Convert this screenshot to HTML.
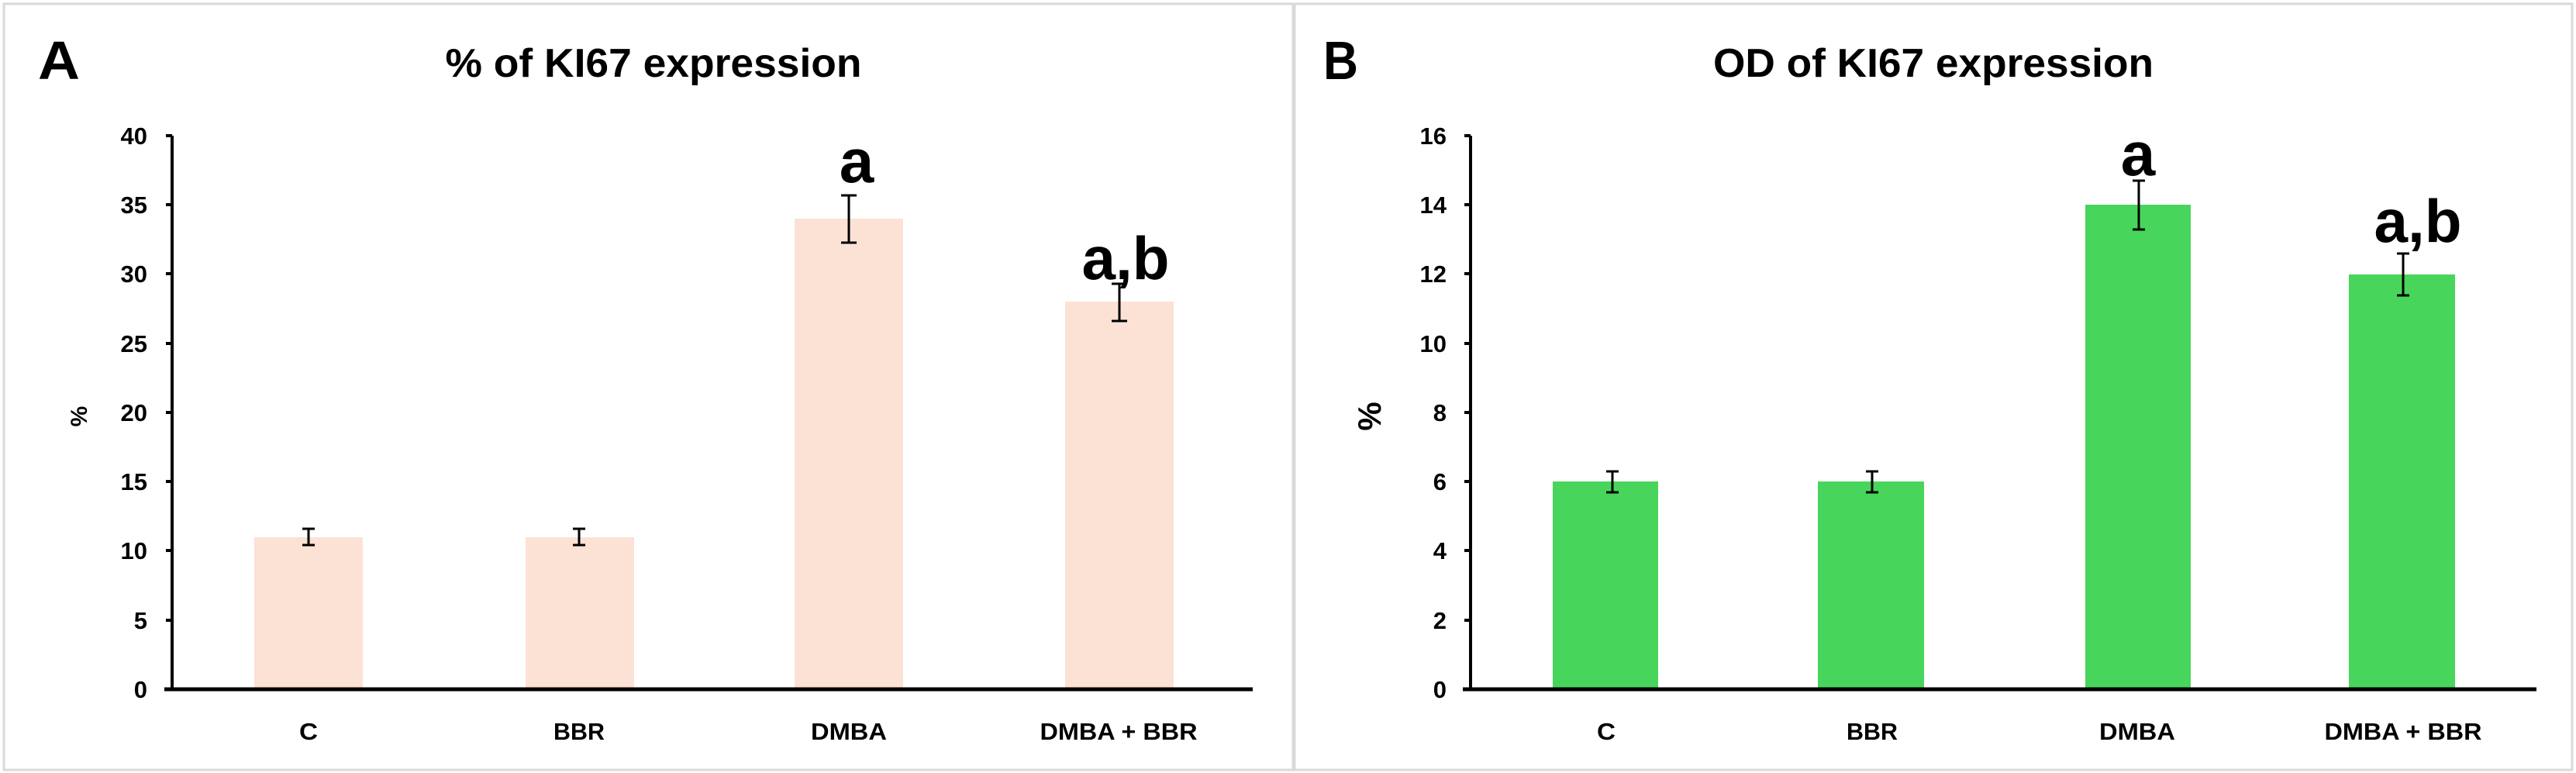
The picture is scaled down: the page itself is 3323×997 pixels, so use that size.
<!DOCTYPE html>
<html><head><meta charset="utf-8"><style>
html,body{margin:0;padding:0;background:#fff;}
svg{display:block;}
text{font-family:"Liberation Sans",sans-serif;font-weight:bold;fill:#000;}
</style></head><body>
<svg width="3323" height="997" viewBox="0 0 3323 997" xmlns="http://www.w3.org/2000/svg">
<rect x="0" y="0" width="3323" height="997" fill="#fff"/>
<rect x="5" y="5" width="1663" height="988" fill="none" stroke="#d9d9d9" stroke-width="3"/>
<rect x="1670" y="5" width="1648" height="988" fill="none" stroke="#d9d9d9" stroke-width="3"/>

<!-- Panel A -->
<text x="49" y="102" font-size="70" textLength="54" lengthAdjust="spacingAndGlyphs">A</text>
<text x="843" y="99" font-size="52" text-anchor="middle" textLength="537" lengthAdjust="spacingAndGlyphs">% of KI67 expression</text>
<g fill="#FBE2D5">
<rect x="328" y="693" width="140" height="196"/>
<rect x="678" y="693" width="140" height="196"/>
<rect x="1025" y="282" width="140" height="607"/>
<rect x="1374" y="389" width="140" height="500"/>
</g>
<g stroke="#000" stroke-width="3" fill="none">
<path d="M398 682V703M390 682H406M390 703H406"/>
<path d="M747 682V703M739 682H755M739 703H755"/>
<path d="M1095 252V313M1085 252H1105M1085 313H1105"/>
<path d="M1444 366V414M1434 366H1454M1434 414H1454"/>
</g>
<path d="M222 175V889M214 175H222M214 264H222M214 353H222M214 443H222M214 532H222M214 621H222M214 710H222M214 800H222M214 889H222" stroke="#000" stroke-width="4" fill="none"/>
<path d="M212 889H1616" stroke="#000" stroke-width="5"/>
<g font-size="31" text-anchor="end">
<text x="190" y="186">40</text><text x="190" y="275">35</text><text x="190" y="364">30</text><text x="190" y="454">25</text><text x="190" y="543">20</text><text x="190" y="632">15</text><text x="190" y="721">10</text><text x="190" y="811">5</text><text x="190" y="900">0</text>
</g>
<text transform="translate(112,537) rotate(-90)" font-size="30" text-anchor="middle">%</text>
<g font-size="31" text-anchor="middle">
<text x="398" y="954" textLength="24" lengthAdjust="spacingAndGlyphs">C</text>
<text x="747" y="954" textLength="66" lengthAdjust="spacingAndGlyphs">BBR</text>
<text x="1095" y="954" textLength="98" lengthAdjust="spacingAndGlyphs">DMBA</text>
<text x="1443" y="954" textLength="203" lengthAdjust="spacingAndGlyphs">DMBA + BBR</text>
</g>
<text x="1105" y="235" font-size="80" text-anchor="middle">a</text>
<text x="1452" y="360" font-size="78" text-anchor="middle" textLength="113" lengthAdjust="spacingAndGlyphs">a,b</text>

<!-- Panel B -->
<text x="1707" y="102" font-size="70" textLength="45" lengthAdjust="spacingAndGlyphs">B</text>
<text x="2494" y="99" font-size="52" text-anchor="middle" textLength="568" lengthAdjust="spacingAndGlyphs">OD of KI67 expression</text>
<g fill="#48D55B">
<rect x="2003" y="621" width="136" height="268"/>
<rect x="2345" y="621" width="137" height="268"/>
<rect x="2690" y="264" width="136" height="625"/>
<rect x="3030" y="354" width="137" height="535"/>
</g>
<g stroke="#000" stroke-width="3" fill="none">
<path d="M2080 608V635M2072 608H2088M2072 635H2088"/>
<path d="M2415 608V635M2407 608H2423M2407 635H2423"/>
<path d="M2759 233V296M2751 233H2767M2751 296H2767"/>
<path d="M3100 327V381M3092 327H3108M3092 381H3108"/>
</g>
<path d="M1897 175V889M1889 175H1897M1889 264H1897M1889 353H1897M1889 443H1897M1889 532H1897M1889 621H1897M1889 710H1897M1889 800H1897M1889 889H1897" stroke="#000" stroke-width="4" fill="none"/>
<path d="M1887 889H3272" stroke="#000" stroke-width="5"/>
<g font-size="31" text-anchor="end">
<text x="1866" y="186">16</text><text x="1866" y="275">14</text><text x="1866" y="364">12</text><text x="1866" y="454">10</text><text x="1866" y="543">8</text><text x="1866" y="632">6</text><text x="1866" y="721">4</text><text x="1866" y="811">2</text><text x="1866" y="900">0</text>
</g>
<text transform="translate(1781,537) rotate(-90)" font-size="42" text-anchor="middle">%</text>
<g font-size="31" text-anchor="middle">
<text x="2072" y="954" textLength="24" lengthAdjust="spacingAndGlyphs">C</text>
<text x="2415" y="954" textLength="66" lengthAdjust="spacingAndGlyphs">BBR</text>
<text x="2757" y="954" textLength="98" lengthAdjust="spacingAndGlyphs">DMBA</text>
<text x="3100" y="954" textLength="203" lengthAdjust="spacingAndGlyphs">DMBA + BBR</text>
</g>
<text x="2758" y="226" font-size="80" text-anchor="middle">a</text>
<text x="3119" y="312" font-size="78" text-anchor="middle" textLength="113" lengthAdjust="spacingAndGlyphs">a,b</text>
</svg>
</body></html>
